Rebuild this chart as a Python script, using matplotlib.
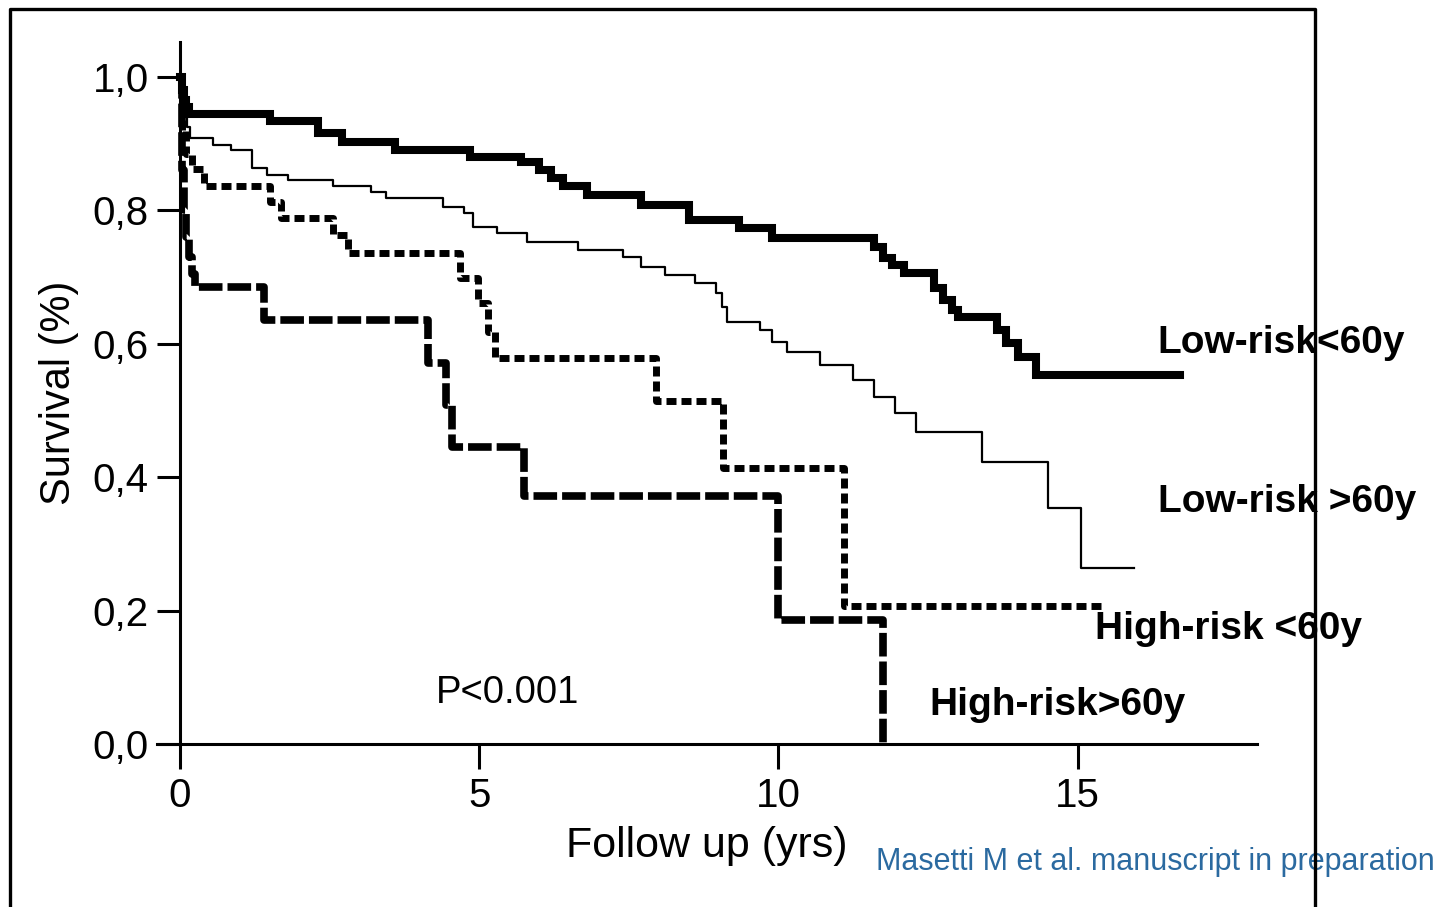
import numpy as np
import matplotlib.pyplot as plt
from matplotlib.lines import Line2D

################################################################################
# Data
################################################################################

# Low-risk <60y
low_young_t = [0, 0.03, 0.06, 0.1, 0.15, 1.5, 2.3, 2.7, 3.6, 4.85, 5.7, 6.0, 6.2,
               6.4, 6.8, 7.7, 8.5, 9.35, 9.9, 11.6, 11.75, 11.9, 12.1, 12.6,
               12.75, 12.9, 13.0, 13.65, 13.8, 14.0, 14.3, 16.72]
low_young_s = [1.0, 0.98, 0.965, 0.955, 0.945, 0.934, 0.916, 0.903, 0.891, 0.880,
               0.873, 0.861, 0.849, 0.837, 0.823, 0.808, 0.786, 0.774, 0.759,
               0.745, 0.729, 0.718, 0.706, 0.684, 0.666, 0.651, 0.640, 0.621,
               0.601, 0.580, 0.553, 0.553]

# Low-risk >60y
low_old_t = [0, 0.04, 0.08, 0.12, 0.17, 0.55, 0.85, 1.2, 1.45, 1.8, 2.55, 3.2,
             3.45, 4.4, 4.75, 4.9, 5.3, 5.8, 6.65, 7.4, 7.7, 8.1, 8.6, 8.95, 9.05,
             9.15, 9.7, 9.9, 10.15, 10.7, 11.25, 11.6, 11.95, 12.3, 13.4, 14.5,
             15.05, 15.95]
low_old_s = [1.0, 0.96, 0.94, 0.925, 0.909, 0.898, 0.891, 0.864, 0.853, 0.846,
             0.837, 0.828, 0.819, 0.805, 0.796, 0.775, 0.766, 0.753, 0.741, 0.730,
             0.715, 0.703, 0.691, 0.676, 0.655, 0.633, 0.621, 0.603, 0.588, 0.568,
             0.546, 0.520, 0.496, 0.468, 0.423, 0.354, 0.264, 0.264]

# High-risk <60y
high_young_t = [0, 0.04, 0.1, 0.2, 0.4, 1.5, 1.68, 2.55, 2.8, 4.68, 4.98, 5.15,
                5.27, 7.95, 9.08, 11.1, 15.4]
high_young_s = [1.0, 0.92, 0.885, 0.862, 0.837, 0.812, 0.789, 0.763, 0.736, 0.699,
                0.661, 0.618, 0.579, 0.514, 0.414, 0.207, 0.207]

# High-risk >60y
high_old_t = [0, 0.03, 0.06, 0.1, 0.15, 0.2, 0.25, 1.4, 4.15, 4.45, 4.55, 5.75,
              10.0, 11.75]
high_old_s = [1.0, 0.86, 0.80, 0.76, 0.73, 0.705, 0.685, 0.636, 0.571, 0.508,
              0.445, 0.372, 0.186, 0.0]

y_ticks = [0.0, 0.2, 0.4, 0.6, 0.8, 1.0]
y_tick_labels = ["0,0", "0,2", "0,4", "0,6", "0,8", "1,0"]
x_ticks = [0, 5, 10, 15]

################################################################################
# Plotting
################################################################################

plt.rcParams["font.family"] = ["Liberation Sans", "DejaVu Sans"]
plt.rcParams["lines.scale_dashes"] = False

fig = plt.figure(figsize = (14.47, 9.07), dpi = 100)
ax = fig.add_axes([0.1085, 0.1797, 0.7602, 0.774])

ax.step(low_young_t, low_young_s, where = "post", color = "black", linewidth = 5.8,
        solid_joinstyle = "miter")
ax.step(low_old_t, low_old_s, where = "post", color = "black", linewidth = 1.6)
ax.step(high_young_t, high_young_s, where = "post", color = "black", linewidth = 5,
        dashes = (7.2, 3.6))
ax.step(high_old_t, high_old_s, where = "post", color = "black", linewidth = 5.5,
        dashes = (17, 3.6), clip_on = False)

ax.set_xlim(-0.385, 18.0)
ax.set_ylim(0, 1.0525)

for side in ["top", "right"]:
    ax.spines[side].set_visible(False)
ax.spines["left"].set_position(("data", 0))
ax.spines["left"].set_linewidth(2.2)
ax.spines["bottom"].set_linewidth(2.2)

ax.set_yticks(y_ticks)
ax.set_yticklabels(y_tick_labels)
ax.set_xticks(x_ticks)
ax.tick_params(axis = "y", length = 16.5, width = 2.2, labelsize = 29, pad = 6)
ax.tick_params(axis = "x", length = 18, width = 2.2, labelsize = 29, pad = 6)

ax.set_xlabel("Follow up (yrs)", fontsize = 31, labelpad = 8)
ax.set_ylabel("Survival (%)", fontsize = 30, labelpad = 10)

# Curve labels
ax.text(16.34, 0.601, "Low-risk<60y", fontsize = 28, fontweight = "bold", va = "center")
ax.text(16.34, 0.363, "Low-risk >60y", fontsize = 28, fontweight = "bold", va = "center")
ax.text(15.30, 0.172, "High-risk <60y", fontsize = 28, fontweight = "bold", va = "center")
ax.text(12.53, 0.058, "High-risk>60y", fontsize = 28, fontweight = "bold", va = "center")
ax.text(4.28, 0.076, "P<0.001", fontsize = 27.5, va = "center")

fig.text(0.6054, 0.0496, "Masetti M et al. manuscript in preparation",
         fontsize = 22, color = "#2b6aa0", va = "center")

#* Open frame around the plot (no bottom edge), drawn on top of the text
x0, x1 = 9.5 / 1447, 1314.5 / 1447
y_top = 1 - 8.5 / 907
fig.lines.append(Line2D([x0, x0, x1, x1], [-0.01, y_top, y_top, -0.01],
                        transform = fig.transFigure, color = "black",
                        linewidth = 2.4, zorder = 10))

fig.savefig("out.png", dpi = 100)
plt.close()
